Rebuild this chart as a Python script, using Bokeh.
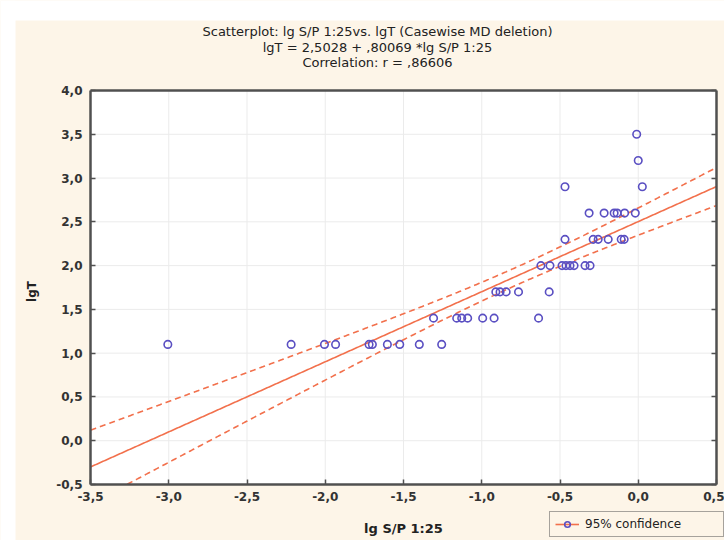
import numpy as np
from bokeh.plotting import figure
from bokeh.models import (FixedTicker, LinearAxis, Legend, LegendItem,
                          Range1d, BoxAnnotation, Label)
from bokeh.embed import file_html
from bokeh.resources import INLINE

# ---------------- data ----------------
title_lines = ["Scatterplot: lg S/P 1:25vs. lgT (Casewise MD deletion)",
               "lgT = 2,5028 + ,80069 *lg S/P 1:25",
               "Correlation: r = ,86606"]
x_label = "lg S/P 1:25"
y_label = "lgT"
legend_label = "95% confidence"

intercept = 2.5028
slope = 0.80069
t_crit = 2.0154   # t(0.975, df = n-2)

lg_sp = [-3.006, -2.218, -2.005, -1.934, -1.720, -1.699, -1.603, -1.524, -1.399, -1.256,
         -1.308, -1.160, -1.128, -1.090, -0.994, -0.921, -0.637,
         -0.910, -0.883, -0.844, -0.765, -0.569,
         -0.622, -0.564, -0.487, -0.462, -0.436, -0.410, -0.340, -0.308,
         -0.468, -0.288, -0.256, -0.192, -0.109, -0.090,
         -0.314, -0.218, -0.154, -0.135, -0.087, -0.019,
         -0.468, 0.026,
         0.000,
         -0.010]
lgT = [1.1, 1.1, 1.1, 1.1, 1.1, 1.1, 1.1, 1.1, 1.1, 1.1,
       1.4, 1.4, 1.4, 1.4, 1.4, 1.4, 1.4,
       1.7, 1.7, 1.7, 1.7, 1.7,
       2.0, 2.0, 2.0, 2.0, 2.0, 2.0, 2.0, 2.0,
       2.3, 2.3, 2.3, 2.3, 2.3, 2.3,
       2.6, 2.6, 2.6, 2.6, 2.6, 2.6,
       2.9, 2.9,
       3.2,
       3.5]

x_ticks = [-3.5, -3.0, -2.5, -2.0, -1.5, -1.0, -0.5, 0.0, 0.5]
x_tick_labels = ["-3,5", "-3,0", "-2,5", "-2,0", "-1,5", "-1,0", "-0,5", "0,0", "0,5"]
y_ticks = [-0.5, 0.0, 0.5, 1.0, 1.5, 2.0, 2.5, 3.0, 3.5, 4.0]
y_tick_labels = ["-0,5", "0,0", "0,5", "1,0", "1,5", "2,0", "2,5", "3,0", "3,5", "4,0"]

# ---------------- styles / layout ----------------
CREAM = "#fdf5e8"
POINT = "#5a4fc2"
LINE = "#f2704c"
AXIS = "#505050"
GRID = "#ebebeb"
FONT = "DejaVu Sans"

# pixel layout of the picture (figure fills the whole window)
FIG_L, FIG_T, FIG_W, FIG_H = 0, 0, 724, 540
PX_X0, PX_X1 = 90, 716      # where x = first / last tick sits
PX_Y0, PX_Y1 = 484, 90      # where y = first / last tick sits

x_lo, x_hi = x_ticks[0], x_ticks[-1]
y_lo, y_hi = y_ticks[0], y_ticks[-1]

def px_to_x(px):
    return x_lo + (px - PX_X0) * (x_hi - x_lo) / (PX_X1 - PX_X0)

def px_to_y(py):
    return y_lo + (PX_Y0 - py) * (y_hi - y_lo) / (PX_Y0 - PX_Y1)

# fitted line and confidence band computed from the data
xs = np.array(lg_sp)
ys = np.array(lgT)
n = len(xs)
b1, b0 = np.polyfit(xs, ys, 1)
s = np.sqrt(np.sum((ys - (b0 + b1 * xs)) ** 2) / (n - 2))
xbar = xs.mean()
sxx = np.sum((xs - xbar) ** 2)
xg = np.linspace(x_lo, x_hi, 600)
yfit = intercept + slope * xg
half = t_crit * s * np.sqrt(1.0 / n + (xg - xbar) ** 2 / sxx)
upper = yfit + half
lower = np.where(yfit - half >= y_lo, yfit - half, np.nan)

p = figure(width=FIG_W, height=FIG_H,
           x_range=Range1d(px_to_x(FIG_L), px_to_x(FIG_L + FIG_W)),
           y_range=Range1d(px_to_y(FIG_T + FIG_H), px_to_y(FIG_T)),
           output_backend="svg", toolbar_location=None, title=None,
           min_border=0, min_border_left=0, min_border_right=0,
           min_border_top=0, min_border_bottom=0,
           background_fill_color=CREAM, border_fill_color=CREAM)
p.outline_line_color = None
p.grid.visible = False

# white plotting area
p.add_layout(BoxAnnotation(left=x_lo, right=x_hi, bottom=y_lo, top=y_hi,
                           fill_color="white", fill_alpha=1.0,
                           line_color=None, level="underlay"))

# grid lines at the ticks
p.segment(x0=x_ticks, y0=[y_lo] * len(x_ticks), x1=x_ticks, y1=[y_hi] * len(x_ticks),
          line_color=GRID, line_width=1)
p.segment(x0=[x_lo] * len(y_ticks), y0=y_ticks, x1=[x_hi] * len(y_ticks), y1=y_ticks,
          line_color=GRID, line_width=1)

def style_axis(ax):
    ax.major_tick_in = 5
    ax.major_tick_out = 0
    ax.minor_tick_line_color = None
    ax.major_tick_line_color = AXIS
    ax.major_tick_line_width = 1.5
    ax.axis_line_color = AXIS
    ax.axis_line_width = 2.5
    ax.major_label_text_font = FONT
    ax.major_label_text_font_style = "bold"
    ax.major_label_text_font_size = "12px"
    ax.major_label_text_color = "#333333"

xa = p.xaxis[0]
xa.ticker = FixedTicker(ticks=x_ticks)
xa.major_label_overrides = {t: l for t, l in zip(x_ticks, x_tick_labels)}
xa.fixed_location = y_lo
xa.bounds = (x_lo, x_hi)
style_axis(xa)
xa.major_label_standoff = 7

ya = p.yaxis[0]
ya.ticker = FixedTicker(ticks=y_ticks)
ya.major_label_overrides = {t: l for t, l in zip(y_ticks, y_tick_labels)}
ya.fixed_location = x_lo
ya.bounds = (y_lo, y_hi)
style_axis(ya)
ya.major_label_standoff = 8

right = LinearAxis(ticker=FixedTicker(ticks=y_ticks), bounds=(y_lo, y_hi),
                   fixed_location=x_hi)
style_axis(right)
right.major_label_overrides = {t: "" for t in y_ticks}
p.add_layout(right, "right")

top = LinearAxis(ticker=FixedTicker(ticks=[]), bounds=(x_lo, x_hi),
                 fixed_location=y_hi)
style_axis(top)
top.major_tick_line_color = None
p.add_layout(top, "above")

fit_r = p.line(xg, yfit, line_color=LINE, line_width=1.6)
p.line(xg, upper, line_color=LINE, line_width=1.6, line_dash="6 4")
p.line(xg, lower, line_color=LINE, line_width=1.6, line_dash="6 4")
pts = p.scatter(lg_sp, lgT, marker="circle", size=7.5, fill_color=None,
                line_color=POINT, line_width=1.6)

# title lines
for line, cy in zip(title_lines, (31, 47, 62)):
    p.add_layout(Label(x=px_to_x(377), y=px_to_y(cy), text=line,
                       text_align="center", text_baseline="middle",
                       text_font=FONT, text_font_size="13px",
                       text_color="#222222"))

# axis titles
p.add_layout(Label(x=px_to_x(403), y=px_to_y(528), text=x_label,
                   text_align="center", text_baseline="middle",
                   text_font=FONT, text_font_size="13px", text_font_style="bold",
                   text_color="#222222"))
p.add_layout(Label(x=px_to_x(31), y=px_to_y(291), text=y_label, angle=np.pi / 2,
                   text_align="center", text_baseline="middle",
                   text_font=FONT, text_font_size="12px", text_font_style="bold",
                   text_color="#222222"))

legend = Legend(items=[LegendItem(label=legend_label, renderers=[fit_r, pts])],
                location=(549 - FIG_L, FIG_T + FIG_H - 537), orientation="horizontal",
                padding=5, margin=0, spacing=0,
                glyph_width=24, glyph_height=14, label_standoff=6,
                label_width=133,
                label_text_font=FONT, label_text_font_size="12px",
                label_text_color="#222222",
                border_line_color=AXIS, border_line_width=1.5,
                background_fill_color=CREAM, background_fill_alpha=1.0)
p.add_layout(legend)

# white page margin strips seen along the top and left edges
p.add_layout(BoxAnnotation(bottom=px_to_y(20), fill_color="white", fill_alpha=1.0,
                           line_color=None, level="overlay"))
p.add_layout(BoxAnnotation(right=px_to_x(15), fill_color="white", fill_alpha=1.0,
                           line_color=None, level="overlay"))

open("out.html", "w").write(file_html(p, INLINE))
